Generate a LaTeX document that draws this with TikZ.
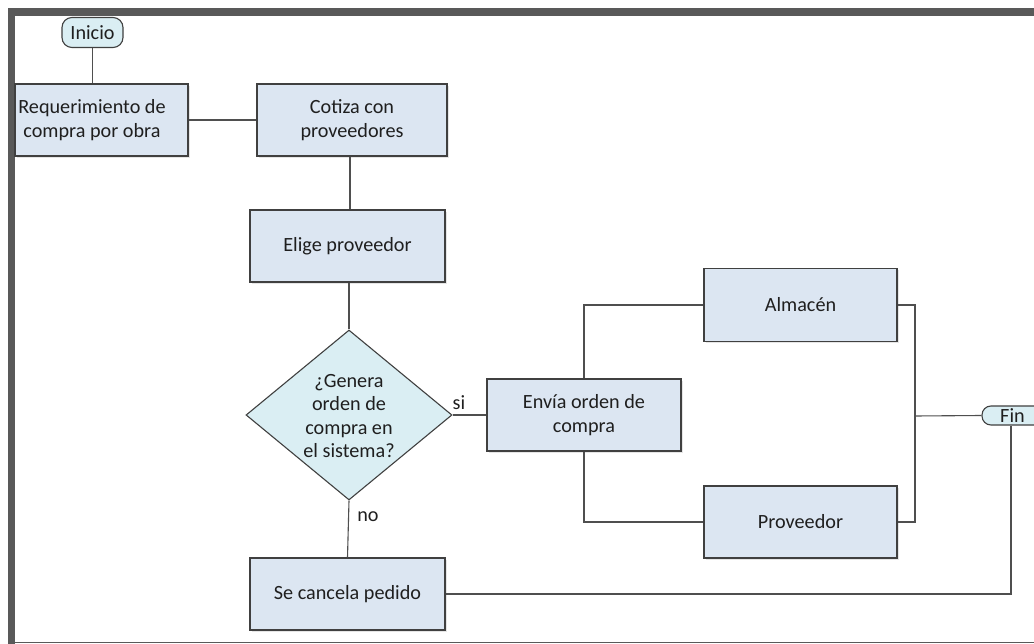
\documentclass[tikz,border=0pt]{standalone}
\usepackage{fontspec}
\setmainfont{Carlito}
\usetikzlibrary{shadows,shapes.geometric}
\definecolor{boxfill}{HTML}{DCE6F2}
\definecolor{termfill}{HTML}{DAEEF3}
\definecolor{edgecol}{HTML}{404040}
\definecolor{wire}{HTML}{4F4F4F}
\definecolor{framecol}{HTML}{595959}
\definecolor{txt}{HTML}{1F1F1F}
\begin{document}
\begin{tikzpicture}[x=1pt,y=-1pt,
  every node/.style={text=txt},
  basefont/.style={font=\fontsize{20.2}{23.5}\selectfont},
  procbox/.style={basefont, draw=edgecol, line width=1.1pt, fill=boxfill,
    align=center, inner sep=0pt, minimum height=72pt,
    drop shadow={shadow xshift=2pt, shadow yshift=-2pt, opacity=0.2}},
  termbox/.style={basefont, draw=edgecol, line width=1.1pt, fill=termfill,
    inner sep=0pt, align=center},
  decbox/.style={diamond, draw=edgecol, line width=1.1pt, fill=termfill,
    inner sep=0pt, minimum width=206pt, minimum height=170pt},
  wirestyle/.style={draw=wire, line width=1.1pt},
  lbl/.style={basefont, inner sep=0pt}
]
\clip (0,0) rectangle (1034,644);
\fill[white] (0,0) rectangle (1034,644);
% frame
\fill[framecol] (8,8) rectangle (1040,16);
\fill[framecol] (8,8) rectangle (15,650);
\draw[framecol, line width=1pt] (15,642.5) -- (1040,642.5);

% nodes
\node[termbox, rounded corners=10pt, minimum width=61pt, minimum height=30pt] (inicio) at (92.5,32.5) {Inicio};
\node[procbox, minimum width=173pt] (req) at (101.5,120) {};
\node[lbl, align=center] (reqtext) at (92,120) {Requerimiento de\\compra por obra};
\node[procbox, minimum width=190pt] (cot) at (352,120) {Cotiza con\\proveedores};
\node[procbox, minimum width=195pt] (eli) at (347.5,246) {Elige proveedor};
\node[decbox] (dia) at (349,415) {};
\node[lbl, align=center] (diatext) at (349,416) {¿Genera\\orden de\\compra en\\el sistema?};
\node[procbox, minimum width=194pt] (env) at (584,415) {Envía orden de\\compra};
\node[procbox, minimum width=193pt, minimum height=73pt] (alm) at (800.5,305) {Almacén};
\node[procbox, minimum width=193pt] (prov) at (800.5,522) {Proveedor};
\node[procbox, minimum width=195pt] (canc) at (347.5,594) {Se cancela pedido};
\node[termbox, rounded corners=9pt, minimum width=61pt, minimum height=19pt] (fin) at (1012.5,415.5) {Fin};
\coordinate (j) at (915,416);

% labels
\node[lbl] (si) at (459,403) {si};
\node[lbl] (no) at (368,517) {no};

% connectors
\draw[wirestyle] (inicio.south) -- (inicio.south |- req.north);
\draw[wirestyle] (req.east) -- (cot.west);
\draw[wirestyle] (cot.south -| 350,0) -- (eli.north -| 350,0);
\draw[wirestyle] (dia.north) -- (dia.north |- eli.south);
\draw[wirestyle] (dia.east) -- (env.west);
\draw[wirestyle] (dia.south) -- (canc.north);
\draw[wirestyle] (env.north) |- (alm.west);
\draw[wirestyle] (env.south) |- (prov.west);
\draw[wirestyle] (alm.east) -| (j) |- (prov.east);
\draw[wirestyle] (j) -- (fin.west);
\draw[wirestyle] (canc.east) -| (fin.south -| 1011,0);
\end{tikzpicture}
\end{document}
